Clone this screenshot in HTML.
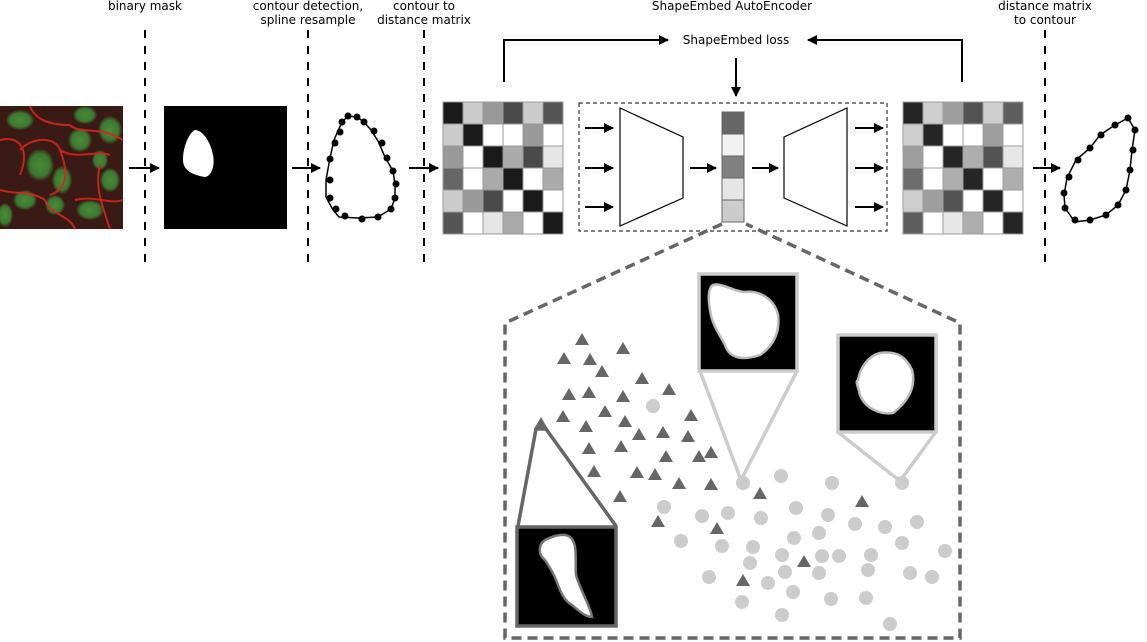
<!DOCTYPE html>
<html><head><meta charset="utf-8"><style>
body{margin:0;background:#fff;}
svg{display:block;font-family:"DejaVu Sans","Liberation Sans",sans-serif;}
</style></head><body>
<svg width="1147" height="642" viewBox="0 0 1147 642" xmlns="http://www.w3.org/2000/svg">
<defs>
<marker id="ah" markerWidth="10" markerHeight="10" refX="9" refY="5" orient="auto" markerUnits="userSpaceOnUse"><path d="M0,0 L10,5 L0,10 z" fill="#000"/></marker>
<radialGradient id="nuc"><stop offset="0" stop-color="#4c8a3a"/><stop offset="0.7" stop-color="#3a7a30"/><stop offset="1" stop-color="#3a2418"/></radialGradient>
</defs>
<g font-size="12" fill="#000" text-anchor="middle">
<text x="145" y="10">binary mask</text>
<text x="308" y="10">contour detection,</text><text x="308" y="24">spline resample</text>
<text x="424" y="10">contour to</text><text x="424" y="24">distance matrix</text>
<text x="732" y="10">ShapeEmbed AutoEncoder</text>
<text x="1045" y="10">distance matrix</text><text x="1045" y="24">to contour</text>
<text x="736" y="44">ShapeEmbed loss</text>
</g>
<g stroke="#000" stroke-width="2" stroke-dasharray="8,8">
<line x1="145" y1="30" x2="145" y2="270"/><line x1="308" y1="30" x2="308" y2="270"/>
<line x1="424" y1="30" x2="424" y2="270"/><line x1="1045" y1="30" x2="1045" y2="270"/>
</g>
<!-- cell image -->
<rect x="0" y="106" width="123" height="123" fill="#3a1a14"/>
<g fill="url(#nuc)">
<ellipse cx="20" cy="120" rx="14" ry="10"/><ellipse cx="85" cy="115" rx="12" ry="9"/><ellipse cx="110" cy="130" rx="12" ry="14"/>
<ellipse cx="80" cy="140" rx="12" ry="12"/><ellipse cx="40" cy="165" rx="14" ry="16"/><ellipse cx="62" cy="180" rx="10" ry="14"/>
<ellipse cx="25" cy="200" rx="12" ry="10"/><ellipse cx="55" cy="205" rx="10" ry="10"/><ellipse cx="90" cy="210" rx="14" ry="10"/>
<ellipse cx="110" cy="180" rx="10" ry="12"/><ellipse cx="5" cy="215" rx="8" ry="12"/><ellipse cx="100" cy="160" rx="8" ry="10"/>
</g>
<g fill="none" stroke="#d0281e" stroke-width="2" opacity="0.9">
<path d="M0,140 C20,135 30,150 20,175 M20,150 C30,138 55,135 60,150 C70,175 65,190 50,195 M60,150 C75,160 95,150 110,155 M70,125 C80,135 100,125 123,140 M0,190 C15,195 30,190 45,200 M45,200 C50,215 70,215 75,229 M75,200 C95,195 110,205 123,200 M100,165 C95,185 100,200 110,229 M30,106 C35,120 50,125 70,125"/>
</g>
<!-- mask -->
<rect x="164" y="106" width="123" height="123" fill="#000"/>
<path d="M195,130 C190,132 183,145 183,160 C183,170 192,175 205,177 C212,176 215,165 213,155 C211,143 203,130 195,130 z" fill="#fff"/>
<!-- contour -->
<g>
<path d="M348,116 L357,117 L364,122 L371,130 L378,141 L385,157 L393,171 L395,184 L395,198 L391,209 L378,217 L358,218 L339,217 L333,210 L326,197 L326,180 L330,158 L334,140 L338,131 L342,122 z" fill="none" stroke="#000" stroke-width="1.5"/>
<g fill="#000">
<circle cx="348" cy="116" r="3.5"/><circle cx="357" cy="117" r="3.5"/><circle cx="364" cy="122" r="3.5"/><circle cx="374" cy="131" r="3.5"/><circle cx="382" cy="143" r="3.5"/><circle cx="387" cy="158" r="3.5"/><circle cx="393" cy="171" r="3.5"/><circle cx="396" cy="184" r="3.5"/><circle cx="395" cy="198" r="3.5"/><circle cx="391" cy="209" r="3.5"/><circle cx="378" cy="217" r="3.5"/><circle cx="362" cy="219" r="3.5"/><circle cx="345" cy="216" r="3.5"/><circle cx="336" cy="209" r="3.5"/><circle cx="330" cy="198" r="3.5"/><circle cx="330" cy="180" r="3.5"/><circle cx="330" cy="159" r="3.5"/><circle cx="335" cy="143" r="3.5"/><circle cx="340" cy="132" r="3.5"/><circle cx="342" cy="122" r="3.5"/>
</g></g>
<!-- right contour -->
<g>
<path d="M1128,118 L1135,130 L1132,150 L1130,170 L1126,190 L1118,205 L1106,215 L1090,220 L1075,222 L1065,208 L1064,195 L1067,178 L1076,160 L1090,148 L1100,135 L1115,125 z" fill="none" stroke="#000" stroke-width="1.5"/>
<g fill="#000"><circle cx="1128" cy="118" r="3.5"/><circle cx="1135" cy="130" r="3.5"/><circle cx="1133" cy="150" r="3.5"/><circle cx="1130" cy="170" r="3.5"/><circle cx="1126" cy="190" r="3.5"/><circle cx="1118" cy="205" r="3.5"/><circle cx="1106" cy="215" r="3.5"/><circle cx="1090" cy="220" r="3.5"/><circle cx="1075" cy="220" r="3.5"/><circle cx="1065" cy="208" r="3.5"/><circle cx="1064" cy="193" r="3.5"/><circle cx="1069" cy="177" r="3.5"/><circle cx="1078" cy="160" r="3.5"/><circle cx="1090" cy="148" r="3.5"/><circle cx="1101" cy="135" r="3.5"/><circle cx="1115" cy="125" r="3.5"/></g>
</g>
<!-- arrows -->
<g stroke="#000" stroke-width="2" marker-end="url(#ah)">
<line x1="129" y1="168" x2="159" y2="168"/><line x1="292" y1="168" x2="320" y2="168"/>
<line x1="409" y1="168" x2="438" y2="168"/><line x1="1033" y1="168" x2="1060" y2="168"/>
<line x1="585" y1="128" x2="613" y2="128"/><line x1="585" y1="168" x2="613" y2="168"/><line x1="585" y1="207" x2="613" y2="207"/>
<line x1="855" y1="128" x2="883" y2="128"/><line x1="855" y1="168" x2="883" y2="168"/><line x1="855" y1="207" x2="883" y2="207"/>
<line x1="690" y1="168" x2="716" y2="168"/><line x1="752" y1="168" x2="778" y2="168"/>
<line x1="736" y1="58" x2="736" y2="96"/>
<polyline points="504,82 504,40 668,40" fill="none"/>
<polyline points="962,82 962,40 808,40" fill="none"/>
</g>
<!-- matrices -->
<g id="mat" stroke="#999" stroke-width="1">
<rect x="443" y="102" width="20" height="22" fill="#1a1a1a"/><rect x="463" y="102" width="20" height="22" fill="#ccc"/><rect x="483" y="102" width="20" height="22" fill="#999"/><rect x="503" y="102" width="20" height="22" fill="#4a4a4a"/><rect x="523" y="102" width="20" height="22" fill="#ccc"/><rect x="543" y="102" width="20" height="22" fill="#555"/>
<rect x="443" y="124" width="20" height="22" fill="#ccc"/><rect x="463" y="124" width="20" height="22" fill="#1a1a1a"/><rect x="483" y="124" width="20" height="22" fill="#fff"/><rect x="503" y="124" width="20" height="22" fill="#fff"/><rect x="523" y="124" width="20" height="22" fill="#999"/><rect x="543" y="124" width="20" height="22" fill="#fff"/>
<rect x="443" y="146" width="20" height="22" fill="#999"/><rect x="463" y="146" width="20" height="22" fill="#fff"/><rect x="483" y="146" width="20" height="22" fill="#1a1a1a"/><rect x="503" y="146" width="20" height="22" fill="#aaa"/><rect x="523" y="146" width="20" height="22" fill="#4a4a4a"/><rect x="543" y="146" width="20" height="22" fill="#e6e6e6"/>
<rect x="443" y="168" width="20" height="22" fill="#666"/><rect x="463" y="168" width="20" height="22" fill="#fff"/><rect x="483" y="168" width="20" height="22" fill="#aaa"/><rect x="503" y="168" width="20" height="22" fill="#1a1a1a"/><rect x="523" y="168" width="20" height="22" fill="#fff"/><rect x="543" y="168" width="20" height="22" fill="#aaa"/>
<rect x="443" y="190" width="20" height="22" fill="#ccc"/><rect x="463" y="190" width="20" height="22" fill="#999"/><rect x="483" y="190" width="20" height="22" fill="#4a4a4a"/><rect x="503" y="190" width="20" height="22" fill="#fff"/><rect x="523" y="190" width="20" height="22" fill="#1a1a1a"/><rect x="543" y="190" width="20" height="22" fill="#fff"/>
<rect x="443" y="212" width="20" height="22" fill="#555"/><rect x="463" y="212" width="20" height="22" fill="#fff"/><rect x="483" y="212" width="20" height="22" fill="#e6e6e6"/><rect x="503" y="212" width="20" height="22" fill="#aaa"/><rect x="523" y="212" width="20" height="22" fill="#fff"/><rect x="543" y="212" width="20" height="22" fill="#1a1a1a"/>
</g>
<use href="#mat" x="460" y="0" opacity="0.95"/>
<!-- autoencoder box -->
<rect x="579" y="103" width="308" height="128" fill="none" stroke="#333" stroke-width="1.2" stroke-dasharray="4,3"/>
<polygon points="620,108 683,137 683,198 620,226" fill="#fff" stroke="#000" stroke-width="1.2"/>
<polygon points="847,108 784,137 784,198 847,226" fill="#fff" stroke="#000" stroke-width="1.2"/>
<g stroke="#666" stroke-width="1">
<rect x="722" y="112" width="22" height="22" fill="#666"/><rect x="722" y="134" width="22" height="22" fill="#f2f2f2"/><rect x="722" y="156" width="22" height="22" fill="#808080"/><rect x="722" y="178" width="22" height="22" fill="#e6e6e6"/><rect x="722" y="200" width="22" height="22" fill="#ccc"/>
</g>
<!-- pentagon -->
<polyline points="722,224 505,323 505,638 960,638 960,323 746,224" fill="none" stroke="#666" stroke-width="3.5" stroke-dasharray="10,6"/>
<!-- scatter triangles -->
<g fill="#666">
<path id="t" d="M0,-7 L7,5 L-7,5 z" transform="translate(582,340)"/>
<use href="#t" x="41" y="9"/><use href="#t" x="-18" y="19"/><use href="#t" x="8" y="20"/><use href="#t" x="20" y="32"/><use href="#t" x="60" y="39"/><use href="#t" x="87" y="50"/><use href="#t" x="-13" y="55"/><use href="#t" x="7" y="53"/><use href="#t" x="41" y="57"/><use href="#t" x="-19" y="77"/><use href="#t" x="23" y="72"/><use href="#t" x="43" y="82"/><use href="#t" x="109" y="76"/><use href="#t" x="4" y="87"/><use href="#t" x="57" y="95"/><use href="#t" x="81" y="93"/><use href="#t" x="106" y="97"/><use href="#t" x="7" y="109"/><use href="#t" x="39" y="107"/><use href="#t" x="84" y="117"/><use href="#t" x="117" y="117"/><use href="#t" x="129" y="113"/><use href="#t" x="12" y="132"/><use href="#t" x="55" y="133"/><use href="#t" x="73" y="135"/><use href="#t" x="97" y="144"/><use href="#t" x="129" y="145"/><use href="#t" x="38" y="157"/><use href="#t" x="178" y="154"/><use href="#t" x="280" y="162"/><use href="#t" x="76" y="182"/><use href="#t" x="135" y="189"/><use href="#t" x="222" y="222"/><use href="#t" x="161" y="241"/><use href="#t" x="-41" y="84"/>
</g>
<g fill="#ccc">
<circle cx="653" cy="406" r="7"/><circle cx="743" cy="483" r="7"/><circle cx="781" cy="476" r="7"/><circle cx="832" cy="483" r="7"/><circle cx="902" cy="483" r="7"/><circle cx="664" cy="507" r="7"/><circle cx="702" cy="516" r="7"/><circle cx="728" cy="513" r="7"/><circle cx="761" cy="518" r="7"/><circle cx="796" cy="508" r="7"/><circle cx="828" cy="515" r="7"/><circle cx="855" cy="524" r="7"/><circle cx="885" cy="527" r="7"/><circle cx="917" cy="522" r="7"/><circle cx="681" cy="541" r="7"/><circle cx="722" cy="546" r="7"/><circle cx="753" cy="547" r="7"/><circle cx="794" cy="538" r="7"/><circle cx="819" cy="533" r="7"/><circle cx="902" cy="543" r="7"/><circle cx="945" cy="551" r="7"/><circle cx="782" cy="555" r="7"/><circle cx="822" cy="556" r="7"/><circle cx="839" cy="556" r="7"/><circle cx="871" cy="555" r="7"/><circle cx="750" cy="563" r="7"/><circle cx="785" cy="572" r="7"/><circle cx="819" cy="573" r="7"/><circle cx="868" cy="570" r="7"/><circle cx="910" cy="573" r="7"/><circle cx="932" cy="577" r="7"/><circle cx="709" cy="577" r="7"/><circle cx="768" cy="583" r="7"/><circle cx="793" cy="592" r="7"/><circle cx="831" cy="599" r="7"/><circle cx="866" cy="598" r="7"/><circle cx="742" cy="602" r="7"/><circle cx="782" cy="615" r="7"/><circle cx="890" cy="624" r="7"/>
</g>
<!-- callouts -->
<g fill="none" stroke-width="3.5">
<polyline points="700,371 741,480 797,371" stroke="#ccc"/>
<polyline points="839,433 900,481 935,433" stroke="#ccc"/>
<polyline points="518,526 536,429 546,429 616,526" stroke="#666"/>
</g>
<rect x="699" y="274" width="98" height="97" fill="#000" stroke="#ccc" stroke-width="3.5"/>
<path d="M713,285 C720,282 735,292 745,292 C760,290 775,300 778,315 C780,330 775,345 760,355 C745,360 730,360 725,345 C720,335 712,325 710,310 C708,298 708,288 713,285 z" fill="#fff" stroke="#bbb" stroke-width="2.5"/>
<rect x="838" y="335" width="98" height="97" fill="#000" stroke="#ccc" stroke-width="3.5"/>
<path d="M880,353 C895,351 905,355 912,370 C916,385 910,400 893,413 C880,415 865,408 860,395 C858,385 855,382 858,380 C860,368 868,356 880,353 z" fill="#fff" stroke="#bbb" stroke-width="2.5"/>
<rect x="517" y="527" width="99" height="99" fill="#000" stroke="#666" stroke-width="3.5"/>
<path d="M545,540 C555,535 565,533 570,537 C578,543 575,560 576,575 C580,590 590,605 592,617 C585,617 578,610 572,605 C563,600 560,590 556,580 C552,570 548,565 545,560 C538,555 538,545 545,540 z" fill="#fff" stroke="#777" stroke-width="2.5"/>
</svg>
</body></html>
